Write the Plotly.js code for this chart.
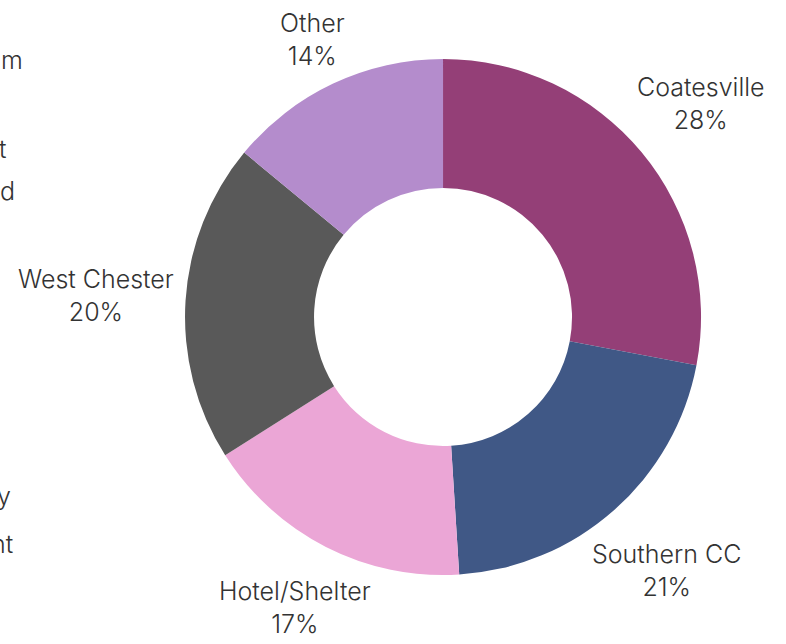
<!DOCTYPE html>
<html>
<head>
<meta charset="utf-8">
<script src="https://cdn.plot.ly/plotly-3.0.1.min.js"></script>
<style>html,body{margin:0;padding:0;background:#fff;}#chart{width:786px;height:644px;}</style>
</head>
<body>
<div id="chart"></div>
<script>
const labels = ["Coatesville", "Southern CC", "Hotel/Shelter", "West Chester", "Other"];
const values = [28, 21, 17, 20, 14];
const colors = ["#943F77", "#405886", "#EBA6D6", "#595959", "#B48CCC"];
// partially visible text cut off at the left edge of the picture
const edgeFragments = ["m", "t", "d", "y", "nt"];

const W = 786, H = 644;
const FONT_FAMILY = "Inter, sans-serif";
const FONT_SIZE = 25;
const TEXT_COLOR = "#333333";
const domain = {x: [0.2354, 0.8919], y: [0.1071, 0.9084]};

const fragRight = [25, 8, 17, 13, 15];
const fragY = [60, 149, 191, 496, 544];

const data = [{
  type: "pie",
  labels: labels,
  values: values,
  hole: 0.5,
  sort: false,
  direction: "clockwise",
  rotation: 0,
  marker: {colors: colors, line: {width: 0}},
  textinfo: "none",
  domain: domain,
  showlegend: false,
  hoverinfo: "skip"
}];

// label placement derived from values (slice mid-angles)
const ctx = document.createElement("canvas").getContext("2d");
ctx.font = "300 " + FONT_SIZE + "px Inter";
const total = values.reduce((a, b) => a + b, 0);
const cx = (domain.x[0] + domain.x[1]) / 2 * W;
const cy = (1 - (domain.y[0] + domain.y[1]) / 2) * H;
const R = (domain.y[1] - domain.y[0]) * H / 2;
const gap = 10;
const hh = 27;
let cum = 0;
const annotations = [];
labels.forEach((lab, i) => {
  const pct = Math.round(values[i] / total * 100) + "%";
  const mid = (cum + values[i] / 2) / total * 2 * Math.PI;
  cum += values[i];
  const s = Math.sin(mid), c = Math.cos(mid);
  const hw = Math.max(ctx.measureText(lab).width, ctx.measureText(pct).width) / 2;
  const support = hw * Math.abs(s) + hh * Math.abs(c);
  const r = R + gap + support;
  const px = cx + r * s, py = cy - r * c;
  annotations.push({
    text: lab + "<br>" + pct, xref: "paper", yref: "paper",
    x: px / W, y: 1 - py / H, xanchor: "center", yanchor: "middle",
    showarrow: false, align: "center",
    font: {family: FONT_FAMILY, size: FONT_SIZE, color: TEXT_COLOR, weight: 300}
  });
});

edgeFragments.forEach((t, i) => {
  annotations.push({
    text: t, xref: "paper", yref: "paper", x: fragRight[i] / W, y: 1 - fragY[i] / H,
    xanchor: "right", yanchor: "middle", showarrow: false,
    font: {family: FONT_FAMILY, size: FONT_SIZE, color: TEXT_COLOR, weight: 300}
  });
});

const layout = {
  width: W, height: H,
  margin: {l: 0, r: 0, t: 0, b: 0},
  paper_bgcolor: "#ffffff",
  annotations: annotations
};
Plotly.newPlot("chart", data, layout, {displayModeBar: false, staticPlot: true});
</script>
</body>
</html>
